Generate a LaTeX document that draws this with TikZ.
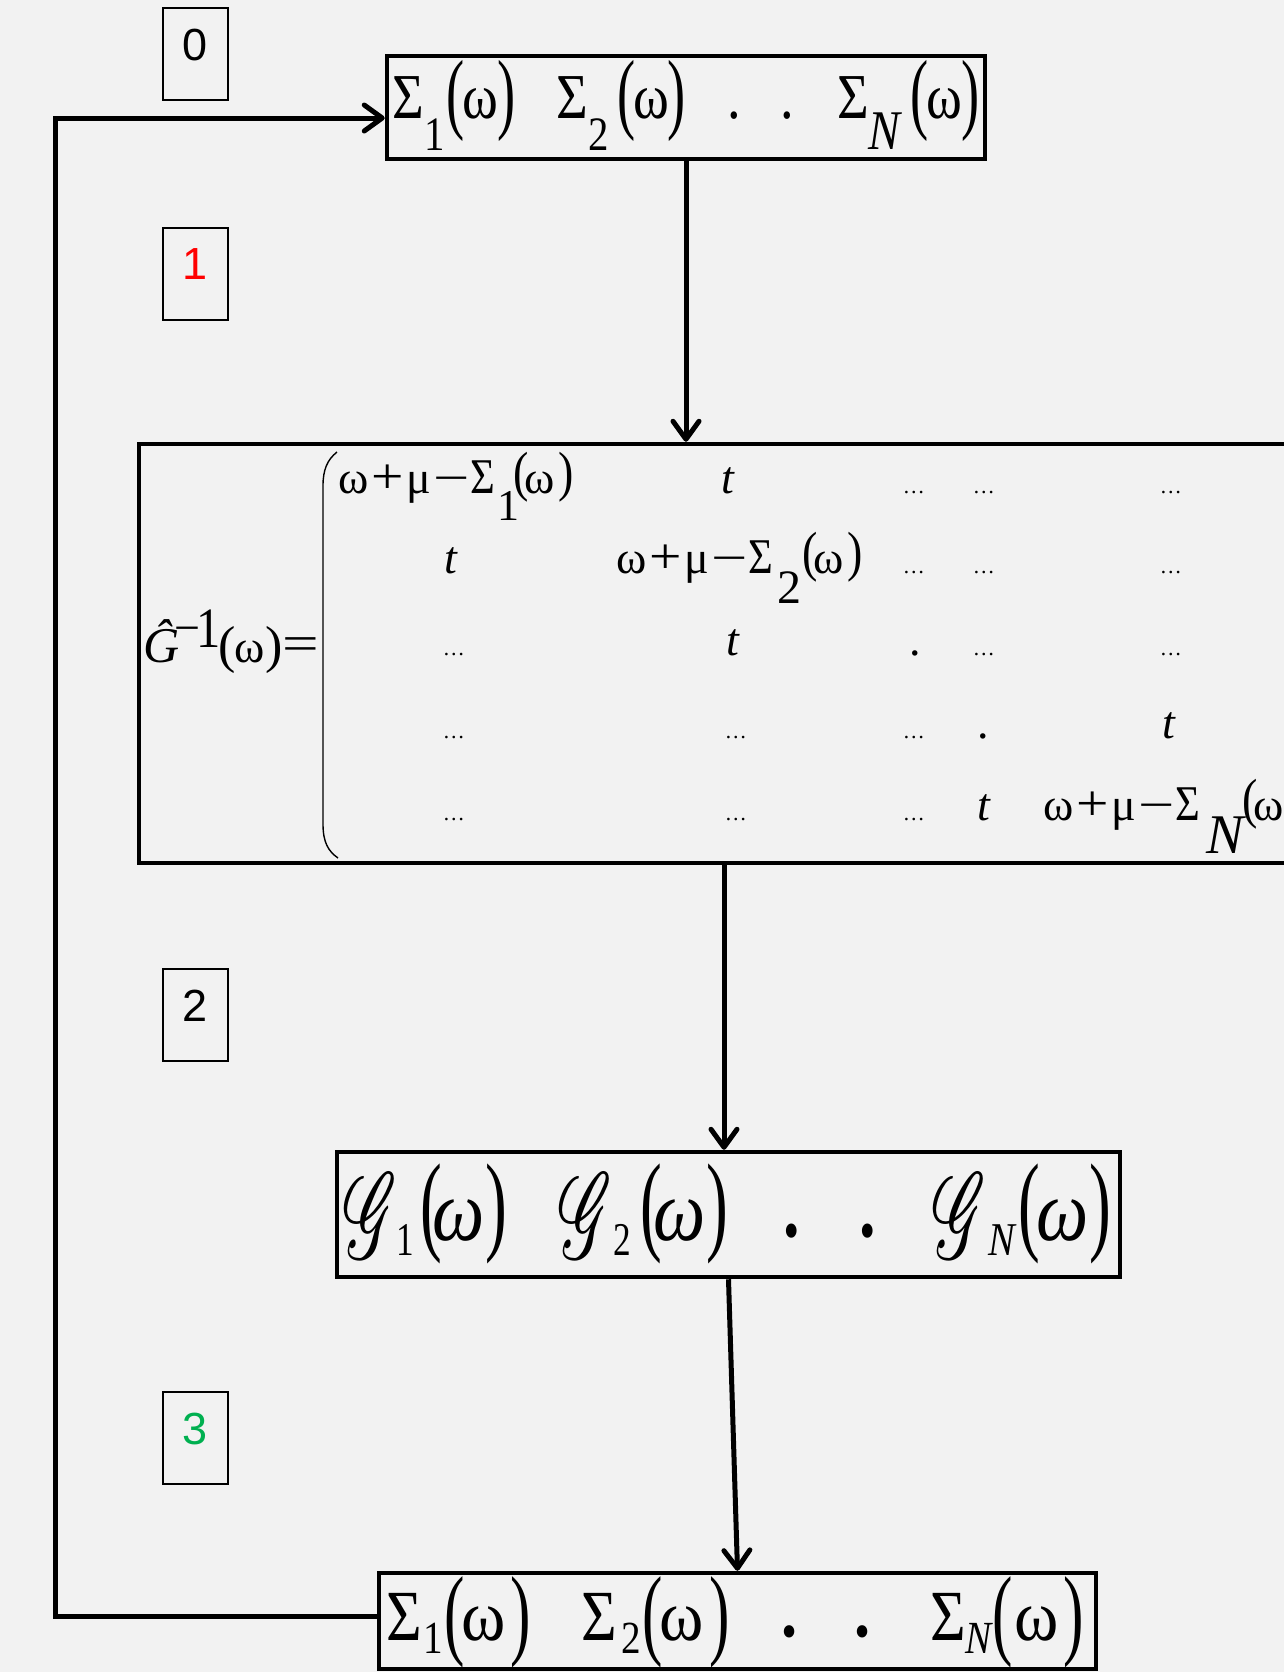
\documentclass[tikz,border=0pt]{standalone}
\usepackage{fontspec}
\usepackage{graphicx}
\usepackage{mathrsfs}
\usetikzlibrary{arrows.meta}
\setmainfont{Liberation Serif}
\newfontfamily\narrowserif[FakeStretch=0.85]{Liberation Serif}
\newfontfamily\wideitalic[FakeStretch=0.85]{Liberation Serif Italic}
\newfontfamily\wideupright[FakeStretch=0.75]{Liberation Serif}
\newfontfamily\sansdigits{Liberation Sans}
\definecolor{paper}{HTML}{F2F2F2}
\definecolor{stepred}{HTML}{FF0000}
\definecolor{stepgreen}{HTML}{00B050}
% one drawing unit = one pixel of the final image
\newlength\pu \setlength\pu{0.5pt}
% place a piece of text at a horizontal offset (and optional raise)
\newcommand\gat[3][0]{\rlap{\hspace*{#2\pu}\raisebox{#1\pu}{#3}}\ignorespaces}
\newcommand\cgat[3][0]{\gat[#1]{#2}{\makebox[0pt]{#3}}}
\newcommand\sz[1]{\fontsize{#1}{#1}\selectfont}
\newcommand\rowdots{{\sz{11}…}}
\newcommand\tallL[2]{\raisebox{#2\pu}{\scalebox{1}[#1]{(}}}
\newcommand\tallR[2]{\raisebox{#2\pu}{\scalebox{1}[#1]{)}}}
\newcommand\wideomega[1]{\scalebox{#1}[1]{ω}}
\newcommand\longminus{\scalebox{1.4}[1]{−}}
\newcommand\bigplus{\scalebox{1.25}[1.1]{+}}
\newcommand\msig{{\narrowserif\sz{25}Σ}}
\newcommand\scrG{\resizebox*{27pt}{42.5pt}{$\mathscr{G}$}}
\tikzset{
  frame/.style={draw=black, line width=2.25pt, inner sep=0pt},
  numbox/.style={draw=black, line width=1pt, minimum width=32.5pt, minimum height=46pt, inner sep=0pt},
  numtext/.style={inner sep=0pt, font=\sansdigits\sz{22.5}},
  eqline/.style={anchor=base west, inner sep=0pt, outer sep=0pt},
  flow/.style={line width=2.5pt, -{Straight Barb[length=9pt, width=13pt, round]}},
}
\begin{document}
\begin{tikzpicture}[x=0.5pt, y=-0.5pt]
\useasboundingbox (0,0) rectangle (1284,1672);
\clip (0,0) rectangle (1284,1672);
\fill[paper] (0,0) rectangle (1284,1672);

% step numbers
\node[numbox] (n0) at (195.5,54) {};
\node[numtext] (n0t) at ([yshift=4.5pt]n0.center) {0};
\node[numbox] (n1) at (195.5,273.5) {};
\node[numtext, text=stepred] (n1t) at ([yshift=4.5pt]n1.center) {1};
\node[numbox] (n2) at (195.5,1015) {};
\node[numtext] (n2t) at ([yshift=4.5pt]n2.center) {2};
\node[numbox] (n3) at (195.5,1438) {};
\node[numtext, text=stepgreen] (n3t) at ([yshift=4.5pt]n3.center) {3};

% frames
\node[frame, minimum width=598\pu, minimum height=103\pu] (top) at (686,107.5) {};
\node[frame, minimum width=1261\pu, minimum height=419\pu] (mat) at (769.5,653.5) {};
\node[frame, minimum width=783\pu, minimum height=125\pu] (gbox) at (728.5,1214.5) {};
\node[frame, minimum width=717\pu, minimum height=96\pu] (bot) at (737.5,1621) {};

% self-energies, first guess
\node[eqline] (topeq) at (0,118) {\narrowserif\sz{32}%
\gat{392}{Σ}\gat[-32]{424}{\sz{24}1}\gat{446}{\tallL{1.4}{-4}}\gat{462}{ω}\gat{497}{\tallR{1.4}{-4}}%
\gat{556}{Σ}\gat[-32]{588}{\sz{24}2}\gat{617}{\tallL{1.4}{-4}}\gat{633}{ω}\gat{667}{\tallR{1.4}{-4}}%
\cgat{733}{.}\cgat{786}{.}%
\gat{837}{Σ}\gat[-31]{868}{\sz{28}\itshape N}\gat{910}{\tallL{1.4}{-4}}\gat{926}{ω}\gat{961}{\tallR{1.4}{-4}}};

% inverse lattice Green's function
\draw[line width=0.7pt] (337,452) .. controls (327,460) and (323,470) .. (323,486)
  -- (323,824) .. controls (323,842) and (328,851) .. (338,858);
\node[eqline] (lhs) at (0,662) {\sz{23}%
\gat{143}{\sz{25}\itshape Ĝ}\gat[19]{174}{−}\gat[15]{196}{\narrowserif\sz{28.5}1}%
\gat{218}{\sz{26}(}\gat{234}{ω}\gat{265}{\sz{26})}\gat[2]{282}{\scalebox{1.3}[1]{\sz{25}=}}};
\node[eqline] (row1) at (0,493) {\sz{23}%
\gat{338}{ω}\gat{371}{\bigplus}\gat{406}{μ}\gat{433}{\longminus}\gat{470}{\msig}\gat[-27]{497}{\sz{22}1}%
\gat{513}{\tallL{1.2}{3}}\gat{524}{ω}\gat{558}{\tallR{1.2}{3}}%
\cgat{727}{\itshape t}\cgat{913}{\rowdots}\cgat{983}{\rowdots}\cgat{1170}{\rowdots}};
\node[eqline] (row2) at (0,573) {\sz{23}%
\cgat{450}{\itshape t}%
\gat{616}{ω}\gat{649}{\bigplus}\gat{684}{μ}\gat{711}{\longminus}\gat{748}{\msig}\gat[-30]{777}{\sz{24}2}%
\gat{802}{\tallL{1.2}{3}}\gat{813}{ω}\gat{847}{\tallR{1.2}{3}}%
\cgat{913}{\rowdots}\cgat{983}{\rowdots}\cgat{1170}{\rowdots}};
\node[eqline] (row3) at (0,655) {\sz{23}%
\cgat{453}{\rowdots}\cgat{732}{\itshape t}\cgat{914}{.}\cgat{983}{\rowdots}\cgat{1170}{\rowdots}};
\node[eqline] (row4) at (0,738) {\sz{23}%
\cgat{453}{\rowdots}\cgat{735}{\rowdots}\cgat{913}{\rowdots}\cgat{982}{.}\cgat{1168}{\itshape t}};
\node[eqline] (row5) at (0,820) {\sz{23}%
\cgat{453}{\rowdots}\cgat{735}{\rowdots}\cgat{913}{\rowdots}\cgat{983}{\itshape t}%
\gat{1043}{ω}\gat{1076}{\bigplus}\gat{1111}{μ}\gat{1138}{\longminus}\gat{1175}{\msig}\gat[-33]{1206}{\sz{28}\itshape N}%
\gat{1242}{\tallL{1.2}{3}}\gat{1253}{ω}};

% local Green's functions
\node[eqline] (geq) at (0,1240) {\wideupright\sz{43.5}%
\gat[-18]{343}{\scrG}\gat[-15]{396}{\sz{23.5}1}\gat{420}{\tallL{1.27}{0}}\gat{432}{\wideitalic ω}\gat{485}{\tallR{1.27}{0}}%
\gat[-18]{558}{\scrG}\gat[-15]{613}{\sz{23.5}2}\gat{640}{\tallL{1.27}{0}}\gat{653}{\wideitalic ω}\gat{706}{\tallR{1.27}{0}}%
\cgat[4]{791}{\sz{60}.}\cgat[4]{867}{\sz{60}.}%
\gat[-18]{932}{\scrG}\gat[-15]{988}{\sz{23.5}\wideitalic N}\gat{1018}{\tallL{1.27}{0}}\gat{1036}{\wideitalic ω}\gat{1089}{\tallR{1.27}{0}}};

% updated self-energies
\node[eqline] (boteq) at (0,1640) {\narrowserif\sz{36}%
\gat{386}{Σ}\gat[-13]{423}{\sz{23}1}\gat{443}{\tallL{1.4}{-6}}\gat{461}{\wideomega{1.1}}\gat{510}{\tallR{1.4}{-6}}%
\gat{581}{Σ}\gat[-13]{621}{\sz{23}2}\gat{642}{\tallL{1.4}{-6}}\gat{659}{\wideomega{1.1}}\gat{709}{\tallR{1.4}{-6}}%
\cgat[4]{789}{\sz{52}.}\cgat[4]{862}{\sz{52}.}%
\gat{930}{Σ}\gat[-13]{965}{\sz{23}\itshape N}\gat{992}{\tallL{1.4}{-6}}\gat{1014}{\wideomega{1.1}}\gat{1063}{\tallR{1.4}{-6}}};

% connectors
\coordinate (lo) at (55,1616);
\coordinate (hi) at (55,118);
\draw[flow] (top.south) -- (top.south |- mat.north);
\draw[flow] ([xshift=-2.25pt]gbox.north |- mat.south) -- ([xshift=-2.25pt]gbox.north);
\draw[flow] (gbox.south) -- (bot.north);
\draw[flow] (lo -| bot.west) -- (lo) -- (hi) -- (hi -| top.west);
\end{tikzpicture}
\end{document}
